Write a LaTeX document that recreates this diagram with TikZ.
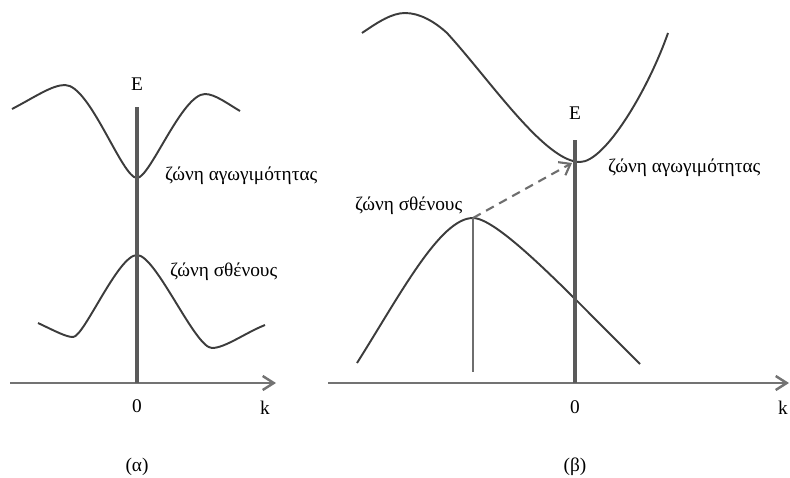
\documentclass[tikz,border=0pt]{standalone}
\usepackage{fontspec}
\setmainfont{Liberation Serif}
\usetikzlibrary{arrows.meta}
\definecolor{bandLine}{HTML}{3C3C3C}
\definecolor{axisLine}{HTML}{5A5A5A}
\definecolor{jumpLine}{HTML}{6E6E6E}

\begin{document}
\begin{tikzpicture}[
  x=0.02cm, y=-0.02cm,
  >={Straight Barb[length=2.2mm,width=2.8mm]},
  every node/.style={font=\fontsize{11}{13.2}\selectfont, inner sep=1pt},
  band/.style={draw=bandLine, line width=1.1pt, line join=round},
  kaxis/.style={draw=axisLine!85, line width=1.4pt},
  eaxis/.style={draw=axisLine, line width=2pt},
  peakline/.style={draw=jumpLine, line width=1.1pt},
  jump/.style={draw=jumpLine, line width=1.2pt, dash pattern=on 5pt off 3.5pt},
  lbl/.style={anchor=west},
]
  \useasboundingbox (0,0) rectangle (790,477);

  % (α) direct gap
  \coordinate (aO) at (137,383);
  \coordinate (aL) at (10,383);
  \coordinate (aR) at (276,383);
  \coordinate (aT) at (137,107);
  \draw[kaxis,->] (aL) -- (aR);
  \draw[band] (12,109) .. controls (35,97) and (52,85) .. (65,85)
    .. controls (90,85) and (122,178) .. (137,178)
    .. controls (150,178) and (182,94) .. (205,94)
    .. controls (215,94) and (228,104) .. (240,111);
  \draw[band] (38,323) .. controls (55,331) and (66,337) .. (73,337)
    .. controls (84,337) and (118,255) .. (137,255)
    .. controls (156,255) and (195,348) .. (212,348)
    .. controls (225,348) and (245,333) .. (265,325);
  \draw[eaxis] (aO) -- (aT);
  \node (aE) at (137,84) {E};
  \node (aZero) at (137,406) {0};
  \node (aK) at (265,408) {k};
  \node[lbl] (aCond) at (163,176) {ζώνη αγωγιμότητας};
  \node[lbl] (aVal) at (168,272) {ζώνη σθένους};
  \node (aCap) at (137,467) {(α)};

  % (β) indirect gap
  \coordinate (bO) at (575,383);
  \coordinate (bL) at (328,383);
  \coordinate (bR) at (789,383);
  \coordinate (bT) at (575,140);
  \coordinate (bVmax) at (473,218);
  \coordinate (bVfoot) at (473,372);
  \coordinate (bCmin) at (572,163);
  \draw[kaxis,->] (bL) -- (bR);
  \draw[band] (362,33) .. controls (378,22) and (392,13) .. (405,13)
    .. controls (420,13) and (435,22) .. (447,33)
    .. controls (490,80) and (545,162) .. (580,162)
    .. controls (605,162) and (648,90) .. (668,33);
  \draw[band] (357,363) .. controls (400,295) and (440,218) .. (473,218)
    .. controls (500,218) and (580,305) .. (640,364);
  \draw[eaxis] (bO) -- (bT);
  \draw[peakline] (bVmax) -- (bVfoot);
  \draw[jump,->,>={Straight Barb[length=2mm,width=3mm]}] (bVmax) -- (bCmin);
  \node (bE) at (575,113) {E};
  \node (bZero) at (575,407) {0};
  \node (bK) at (783,408) {k};
  \node[lbl] (bCond) at (606,168) {ζώνη αγωγιμότητας};
  \node[lbl] (bVal) at (353,206) {ζώνη σθένους};
  \node (bCap) at (575,467) {(β)};
\end{tikzpicture}
\end{document}
